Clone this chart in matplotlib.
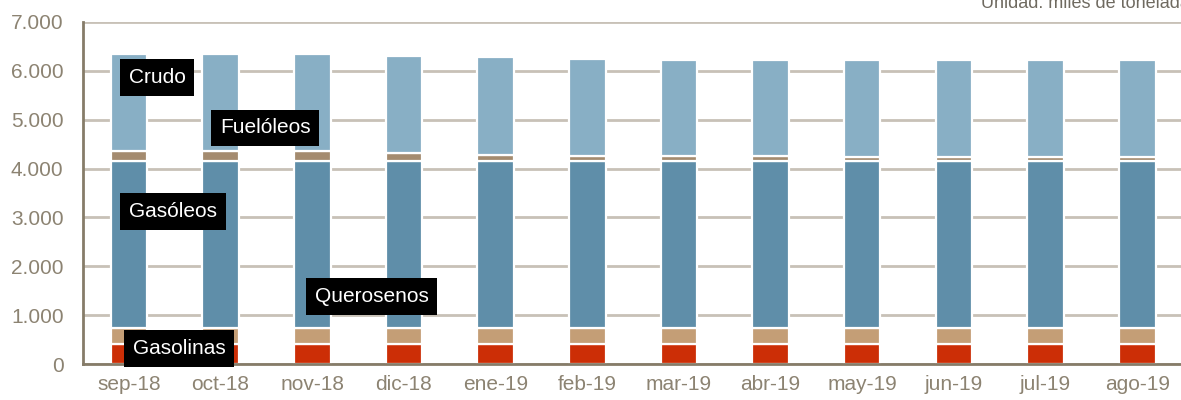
import numpy as np
import matplotlib

matplotlib.use("Agg")
import matplotlib.pyplot as plt
from matplotlib.ticker import FuncFormatter

plt.rcParams["font.family"] = ["Liberation Sans", "DejaVu Sans"]

MONTHS = ["sep-18", "oct-18", "nov-18", "dic-18", "ene-19", "feb-19",
          "mar-19", "abr-19", "may-19", "jun-19", "jul-19", "ago-19"]
# miles de toneladas
GASOLINAS = [405, 405, 405, 405, 405, 405, 405, 405, 405, 405, 405, 405]
QUEROSENOS = [340, 340, 340, 340, 340, 340, 340, 340, 340, 340, 340, 340]
GASOLEOS = [3405, 3405, 3405, 3405, 3405, 3405, 3405, 3405, 3405, 3405, 3405, 3405]
FUELOLEOS = [200, 200, 200, 175, 135, 110, 100, 100, 95, 95, 95, 95]
CRUDO = [1990, 1990, 1990, 1985, 1990, 1985, 1980, 1980, 1980, 1980, 1980, 1980]

SERIES = [
    ("Gasolinas", GASOLINAS, "#cc2e06"),
    ("Querosenos", QUEROSENOS, "#c49e76"),
    ("Gasóleos", GASOLEOS, "#5f8ea9"),
    ("Fuelóleos", FUELOLEOS, "#a48b6f"),
    ("Crudo", CRUDO, "#88afc5"),
]
# label boxes: (name, x, y) in data units
LABELS = [
    ("Crudo", 0.31, 5860),
    ("Fuelóleos", 1.49, 4834),
    ("Gasóleos", 0.48, 3117),
    ("Querosenos", 2.65, 1377),
    ("Gasolinas", 0.55, 313),
]

TXT = "#8c8372"
GRID = "#c8c1b7"
SPINE = "#867c69"
FS = 15

fig = plt.figure(figsize=(11.81, 4.0), dpi=100)
ax = fig.add_axes([83 / 1181, 36 / 400, 1100 / 1181, 342 / 400])

x = np.arange(len(MONTHS))
bottom = np.zeros(len(MONTHS))
for name, vals, col in SERIES:
    vals = np.asarray(vals, dtype=float)
    ax.bar(x, vals, 0.40, bottom=bottom, color=col, edgecolor="white",
           linewidth=1.6, zorder=3)
    bottom += vals

for name, lx, ly in LABELS:
    ax.text(lx, ly, name, color="white", fontsize=FS, ha="center", va="center",
            zorder=5,
            bbox=dict(boxstyle="square,pad=0.42", fc="black", ec="none"))

ax.set_xlim(-0.5, 11.5)
ax.set_ylim(0, 7000)
ax.set_yticks(np.arange(0, 7001, 1000))
ax.yaxis.set_major_formatter(FuncFormatter(lambda v, _: f"{int(v):,}".replace(",", ".")))
ax.set_xticks(x)
ax.set_xticklabels(MONTHS)
ax.tick_params(axis="both", length=0, colors=TXT, labelsize=FS)
ax.tick_params(axis="x", pad=8)
ax.tick_params(axis="y", pad=14)
ax.grid(axis="y", color=GRID, linewidth=2.0, zorder=1)
ax.set_axisbelow(True)
for s in ("top", "right"):
    ax.spines[s].set_visible(False)
for s in ("left", "bottom"):
    ax.spines[s].set_color(SPINE)
    ax.spines[s].set_linewidth(2.0)
    ax.spines[s].set_zorder(4)

# the source crops this note at the top-right corner
fig.text(981 / 1181, 1 - 8 / 400, "Unidad: miles de toneladas", color="#6f6a60",
         fontsize=13, ha="left", va="baseline")

fig.savefig("out.png", dpi=100)
